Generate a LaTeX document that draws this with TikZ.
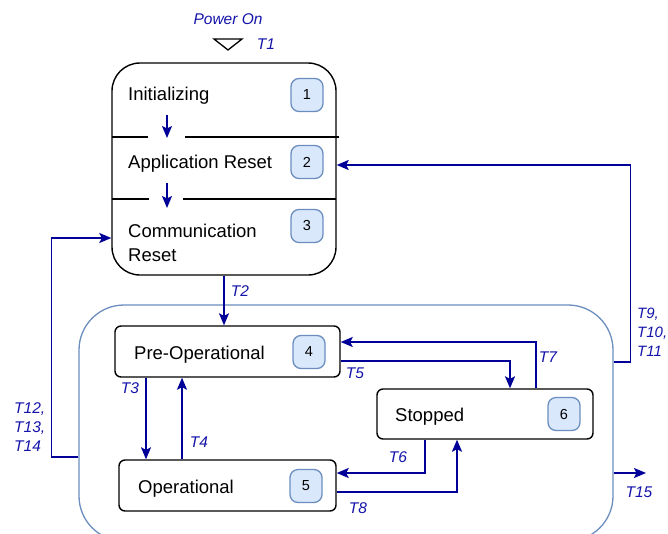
\documentclass[tikz,border=0pt]{standalone}
\usepackage{fontspec}
\setmainfont{Liberation Sans}
\usetikzlibrary{arrows.meta,positioning,calc}
\definecolor{arrowblue}{RGB}{0,0,153}
\definecolor{labelblue}{RGB}{20,20,170}
\definecolor{badgefill}{HTML}{DAE8FC}
\definecolor{badgedraw}{HTML}{6C8EBF}
\tikzset{
  arr/.style={draw=arrowblue, line width=1.5pt, -{Stealth[length=12pt,width=10pt,inset=2.5pt]}},
  tlabel/.style={text=labelblue, font=\fontsize{15.5}{19}\selectfont\itshape, inner sep=0pt, align=left},
  statebox/.style={draw=black, line width=1.4pt, rounded corners=6pt, rectangle, inner sep=0pt},
  badge/.style={draw=badgedraw, fill=badgefill, line width=1.3pt, rounded corners=8pt, minimum width=32pt, minimum height=33pt, inner sep=0pt, font=\fontsize{14.5}{16}\selectfont},
  sttext/.style={font=\fontsize{18.5}{24}\selectfont, inner sep=0pt, anchor=base west, align=left},
}
\begin{document}
\begin{tikzpicture}[x=1pt,y=-1pt]
\clip (0,0) rectangle (668,533);
\fill[white] (0,0) rectangle (668,533);

% outer group box
\node[draw=badgedraw, line width=1.3pt, rounded corners=45pt, minimum width=534pt, minimum height=236pt, inner sep=0pt] (outer) at (346,423) {};

% top box
\node[draw=black, line width=1.4pt, rounded corners=28pt, minimum width=224pt, minimum height=212pt, inner sep=0pt] (top) at (224,169) {};
\draw[line width=1.3pt] (112,137) -- (148,137) (185,137) -- (339,137);
\draw[line width=1.3pt] (112,199) -- (149,199) (183,199) -- (336,199);
\node[sttext] (init) at (128,100) {Initializing};
\node[sttext] (appres) at (128,168) {Application Reset};
\node[sttext] (comres) at (128,237) {Communication};
\node[sttext] (comres2) at (128,261) {Reset};
\node[badge] (b1) at (307,95) {1};
\node[badge] (b2) at (307,162) {2};
\node[badge] (b3) at (307,226) {3};
\coordinate (a1s) at (167,115);
\coordinate (a1e) at (167,138);
\coordinate (a2s) at (167,183);
\coordinate (a2e) at (167,208);
\draw[arr] (a1s) -- (a1e);
\draw[arr] (a2s) -- (a2e);

% power on
\node[tlabel] (pwr) at (228,19) {Power On};
\draw[line width=1.3pt, line join=miter] (214,39) -- (242,39) -- (228,50) -- cycle;
\node[tlabel] (t1) at (266,44) {T1};

% inner states
\node[statebox, minimum width=225pt, minimum height=51pt] (preop) at (227.5,351.5) {};
\node[sttext] at (134,359) {Pre-Operational};
\node[badge] (b4) at (309,352) {4};

\node[statebox, minimum width=217pt, minimum height=51pt] (oper) at (227.5,485.5) {};
\node[sttext] at (138,493) {Operational};
\node[badge] (b5) at (306,486) {5};

\node[statebox, minimum width=216pt, minimum height=50pt] (stopped) at (485,414) {};
\node[sttext] at (395,421) {Stopped};
\node[badge] (b6) at (564,414) {6};

% connectors
\draw[arr] (top.south) -- (top.south |- preop.north);
\node[tlabel] at (240,291) {T2};

\draw[arr] ([xshift=-81.5pt]preop.south) -- ([xshift=-81.5pt]preop.south |- oper.north);
\node[tlabel] at (130,388) {T3};

\draw[arr] ([xshift=-45.5pt]oper.north) -- ([xshift=-45.5pt]oper.north |- preop.south);
\node[tlabel] at (199,442) {T4};

\draw[arr] ([yshift=-9.5pt]preop.east) -| ([xshift=25pt]stopped.north);
\node[tlabel] at (355,373) {T5};

\draw[arr] ([xshift=51pt]stopped.north) |- ([yshift=9.5pt]preop.east);
\node[tlabel] at (548,357) {T7};

\draw[arr] ([xshift=-60pt]stopped.south) |- ([yshift=12.5pt]oper.east);
\node[tlabel] at (398,457) {T6};

\draw[arr] ([yshift=-6.5pt]oper.east) -| ([xshift=-28pt]stopped.south);
\node[tlabel] at (358,508) {T8};

\draw[arr] ([yshift=61pt]outer.east) -- ++(17,0) |- ([yshift=4pt]top.east);
\node[tlabel, anchor=north west, font=\fontsize{15}{19}\selectfont\itshape] at (637,308) {T9,\\T10,\\T11};

\draw[arr] ([yshift=-34pt]outer.west) -- ++(-27,0) |- ([yshift=-69pt]top.west);
\node[tlabel, anchor=north west] at (14,402) {T12,\\T13,\\T14};

\coordinate (t15end) at (646,473);
\draw[arr] ([yshift=-50pt]outer.east) -- (t15end);
\node[tlabel] at (639,492) {T15};
\end{tikzpicture}
\end{document}
